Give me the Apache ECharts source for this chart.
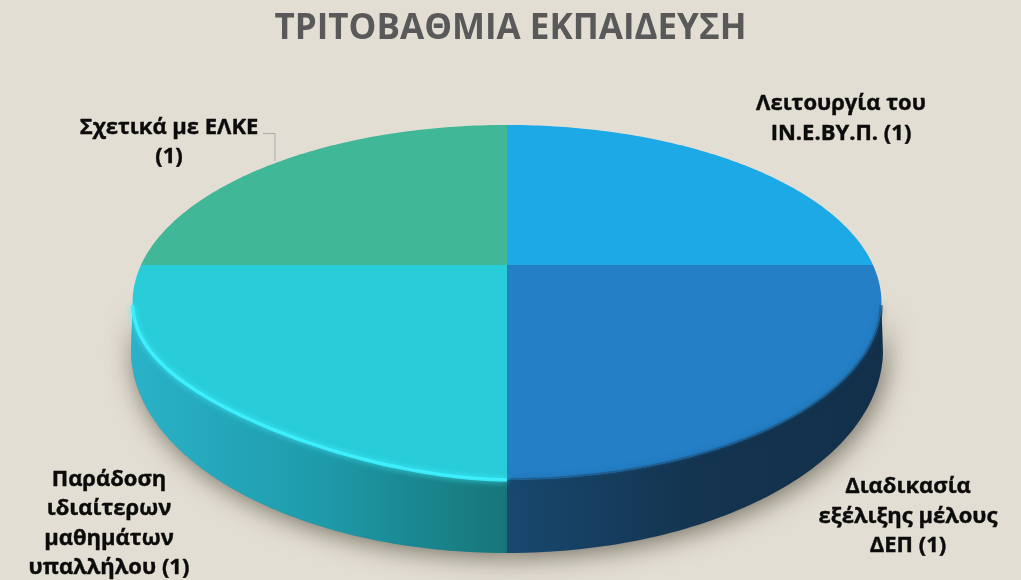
<!DOCTYPE html>
<html><head><meta charset="utf-8">
<style>html,body{margin:0;padding:0;background:#E3DED3}#c{width:1021px;height:580px}</style>
<script src="https://cdn.jsdelivr.net/npm/echarts@6/dist/echarts.min.js"></script>
</head><body><div id="c"></div>
<script>
const titleText = 'ΤΡΙΤΟΒΑΘΜΙΑ ΕΚΠΑΙΔΕΥΣΗ';
const categories = ['Λειτουργία του\nΙΝ.Ε.ΒΥ.Π.', 'Διαδικασία\nεξέλιξης μέλους\nΔΕΠ', 'Παράδοση\nιδιαίτερων\nμαθημάτων\nυπαλλήλου', 'Σχετικά με ΕΛΚΕ\n'];
const values = [1, 1, 1, 1];

const FONT = '"Open Sans", "Noto Sans", sans-serif';
const topColors = ['#1CA9E6', '#247FC6', '#29CCD9', '#40B797'];
const wallStops = [null, ['#18486F', '#14344F', '#12304A'], ['#2AB2C8', '#1E9BAB', '#177578'], null];
const rimColors = [null, 'rgba(20,70,110,0.55)', '#3FF2FF', null];
const labelAt = [[841, 118.5], [908, 516.5], [109, 523.5], [169, 142]];

const total = values.reduce((a, b) => a + b, 0);
const P = { cx: 507, cy: 265, k: -0.211, A: 366, B: 169.6 };
const TOP = { cy: 302.5, rx: 376, ry: 177.5 };
const LOW = { cy: 350, rx: 376, ry: 203 };

function project(theta) {
  const u = Math.sin(theta), v = -Math.cos(theta), w = 1 + P.k * v;
  return [P.cx + P.A * u / w, P.cy + P.B * v / w];
}
function paramOf(p) {
  return Math.atan2((p[1] - TOP.cy) / TOP.ry, (p[0] - P.cx) / TOP.rx);
}
function lowerOf(p) {
  const t = paramOf(p);
  return [P.cx + LOW.rx * Math.cos(t), LOW.cy + LOW.ry * Math.sin(t)];
}
// the tilted view lifts the front-left edge of the top face slightly
function lifted(p) {
  if (p[0] >= P.cx || p[1] <= TOP.cy) return p;
  return [p[0], p[1] - 12 * Math.pow(Math.abs(Math.sin(2 * paramOf(p))), 1.5)];
}

function renderSlice(params, api) {
  const i = params.dataIndex;
  let before = 0;
  for (let j = 0; j < i; j++) before += values[j];
  const a0 = before / total * 2 * Math.PI;
  const a1 = (before + api.value(0)) / total * 2 * Math.PI;
  const raw = [];
  for (let s = 0; s <= 90; s++) raw.push(project(a0 + (a1 - a0) * s / 90));
  const arc = raw.map(lifted);
  const children = [];
  const frontRaw = raw.filter(p => p[1] >= TOP.cy);
  const front = frontRaw.map(lifted);
  if (front.length > 1) {
    const lower = frontRaw.map(lowerOf);
    const wall = front.concat(lower.slice().reverse());
    children.push({
      type: 'polygon', z2: 0, shape: { points: lower.concat(front.slice().reverse()) },
      style: { fill: '#888', shadowBlur: 26, shadowColor: 'rgba(40,35,20,0.6)', shadowOffsetX: 3, shadowOffsetY: 4 }
    });
    const stops = wallStops[i];
    const xs = wall.map(p => p[0]);
    const x0 = Math.min(...xs), x1 = Math.max(...xs);
    children.push({
      type: 'polygon', z2: 1, shape: { points: wall },
      style: {
        fill: new echarts.graphic.LinearGradient(x0, 0, x1, 0, [
          { offset: 0, color: stops[0] }, { offset: 0.5, color: stops[1] }, { offset: 1, color: stops[2] }
        ], true)
      }
    });
  }
  children.push({
    type: 'polygon', z2: 2, shape: { points: [[P.cx, P.cy]].concat(arc) },
    style: { fill: topColors[i] }
  });
  if (rimColors[i] && front.length > 1) {
    children.push({
      type: 'polyline', z2: 3, shape: { points: front },
      style: { fill: 'none', stroke: rimColors[i], lineWidth: 3.5, opacity: 0.9, shadowBlur: 6, shadowColor: rimColors[i] }
    });
  }
  const lab = categories[i];
  const text = /\n$/.test(lab) ? lab + '(' + api.value(0) + ')' : lab + ' (' + api.value(0) + ')';
  children.push({
    type: 'text', z2: 5, x: labelAt[i][0], y: labelAt[i][1],
    style: {
      text: text, fill: '#0b0b0b', font: 'bold 22px ' + FONT,
      align: 'center', verticalAlign: 'middle', lineHeight: 29.5,
      stroke: '#0b0b0b', lineWidth: 0.4
    }
  });
  if (i === 3) {
    children.push({
      type: 'polyline', z2: 4, shape: { points: [[263, 133.5], [275, 133.5], [275, 161]] },
      style: { fill: 'none', stroke: '#A9ABAE', lineWidth: 1 }
    });
  }
  return { type: 'group', children: children };
}

const chart = echarts.init(document.getElementById('c'), null, { renderer: 'canvas' });
chart.setOption({
  animation: false,
  backgroundColor: '#E3DED3',
  title: {
    text: titleText, left: 'center', top: 7,
    textStyle: { fontFamily: FONT, fontWeight: 'bold', fontSize: 35, color: '#595959' }
  },
  series: [{
    type: 'custom', coordinateSystem: 'none',
    data: values.map((v, i) => ({ name: categories[i], value: [v] })),
    renderItem: renderSlice
  }]
});
</script></body></html>
